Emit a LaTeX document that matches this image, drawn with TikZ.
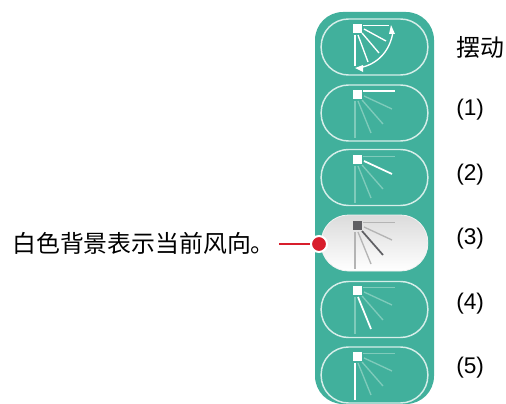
\documentclass[tikz,border=0pt]{standalone}
\usepackage{fontspec}
\setmainfont{Liberation Sans}
\newfontfamily\cjk{Noto Sans CJK SC}
\definecolor{panelc}{HTML}{41B09C}
\definecolor{ringc}{HTML}{D6EEE9}
\definecolor{rayc}{HTML}{7FCBBB}
\definecolor{dotc}{HTML}{D81E2C}
\definecolor{grayray}{HTML}{B4B4B4}
\definecolor{darkray}{HTML}{5F5F63}
\tikzset{
  x=0.75pt,y=-0.75pt,
  panel/.style={fill=panelc,draw=none,rounded corners=21pt},
  pillbase/.style={rounded corners=20.5pt,minimum width=80pt,minimum height=42pt,inner sep=0pt},
  pill/.style={pillbase,draw=ringc,line width=1.1pt},
  pillon/.style={pillbase,top color=black!14,bottom color=white,draw=black!5,line width=0.6pt},
  lab/.style={anchor=west,inner sep=0pt,font=\fontsize{17pt}{20pt}\selectfont,text=black},
  cjklab/.style={anchor=west,inner sep=0pt,font=\fontsize{17.9pt}{20pt}\selectfont\cjk,text=black},
}
% #1 x, #2 y of the square, #3 active ray, #4 idle, #5 active
\newcommand\fanicon[5]{%
  \begin{scope}[shift={(#1,#2)},line width=1pt]
    \foreach \n/\sx/\sy/\ex/\ey in {1/10/1.3/42/1.3,2/11/6/39/19,3/9/10/30/34,4/5/11/18/43,5/2/11/2/48}{%
      \ifnum\n=#3\relax
        \draw[#5,line width=1.3pt] (\sx,\sy) -- (\ex,\ey);
      \else
        \draw[#4] (\sx,\sy) -- (\ex,\ey);
      \fi
    }
    \fill[#5] (0,0) rectangle (9,9);
  \end{scope}}
\begin{document}
\begin{tikzpicture}
\useasboundingbox (0,0) rectangle (506,403);
\begin{scope}
\clip (0,0) rectangle (506,403);
\path[panel] (315,12) rectangle (434,404);
\node[pill] (p0) at (374.5,47) {};
\node[pill] (p1) at (374.5,113) {};
\node[pill] (p2) at (374.5,177.5) {};
\node[pillon] (p3) at (374.5,243) {};
\node[pill] (p4) at (374.5,309.5) {};
\node[pill] (p5) at (374.5,375) {};
% swing icon
\begin{scope}[shift={(353,24)},line width=1pt,white]
  \draw (10,1.5) -- (36,1.5);
  \draw (11,5) -- (33,17);
  \draw (9,9) -- (26,29);
  \draw (5,11) -- (15,38);
  \draw (2,11) -- (2,42);
  \fill (0,0) rectangle (9,9);
  \draw (40,8) .. controls (37,26) and (26,40) .. (6,44);
  \fill (38,1) -- (42,10) -- (36,10) -- cycle;
  \fill (2,44) -- (10,41) -- (10,48) -- cycle;
\end{scope}
\fanicon{353}{90}{1}{rayc}{white}
\fanicon{353}{155}{2}{rayc}{white}
\fanicon{353}{221}{3}{grayray}{darkray}
\fanicon{353}{286}{4}{rayc}{white}
\fanicon{353}{352}{5}{rayc}{white}
\end{scope}
\node[cjklab] (t0) at (456,47) {摆动};
\node[lab] (t1) at (456,110) {(1)};
\node[lab] (t2) at (456,175) {(2)};
\node[lab] (t3) at (456,239) {(3)};
\node[lab] (t4) at (456,304) {(4)};
\node[lab] (t5) at (456,368) {(5)};
\node[cjklab] (note) at (12,243) {白色背景表示当前风向。};
\node[circle,fill=dotc,draw=white,line width=1.5pt,minimum size=12pt,inner sep=0pt] (dot) at (319,244) {};
\coordinate (lead) at (279,244);
\draw[dotc,line width=1.5pt] (lead) -- (dot);
\end{tikzpicture}
\end{document}
